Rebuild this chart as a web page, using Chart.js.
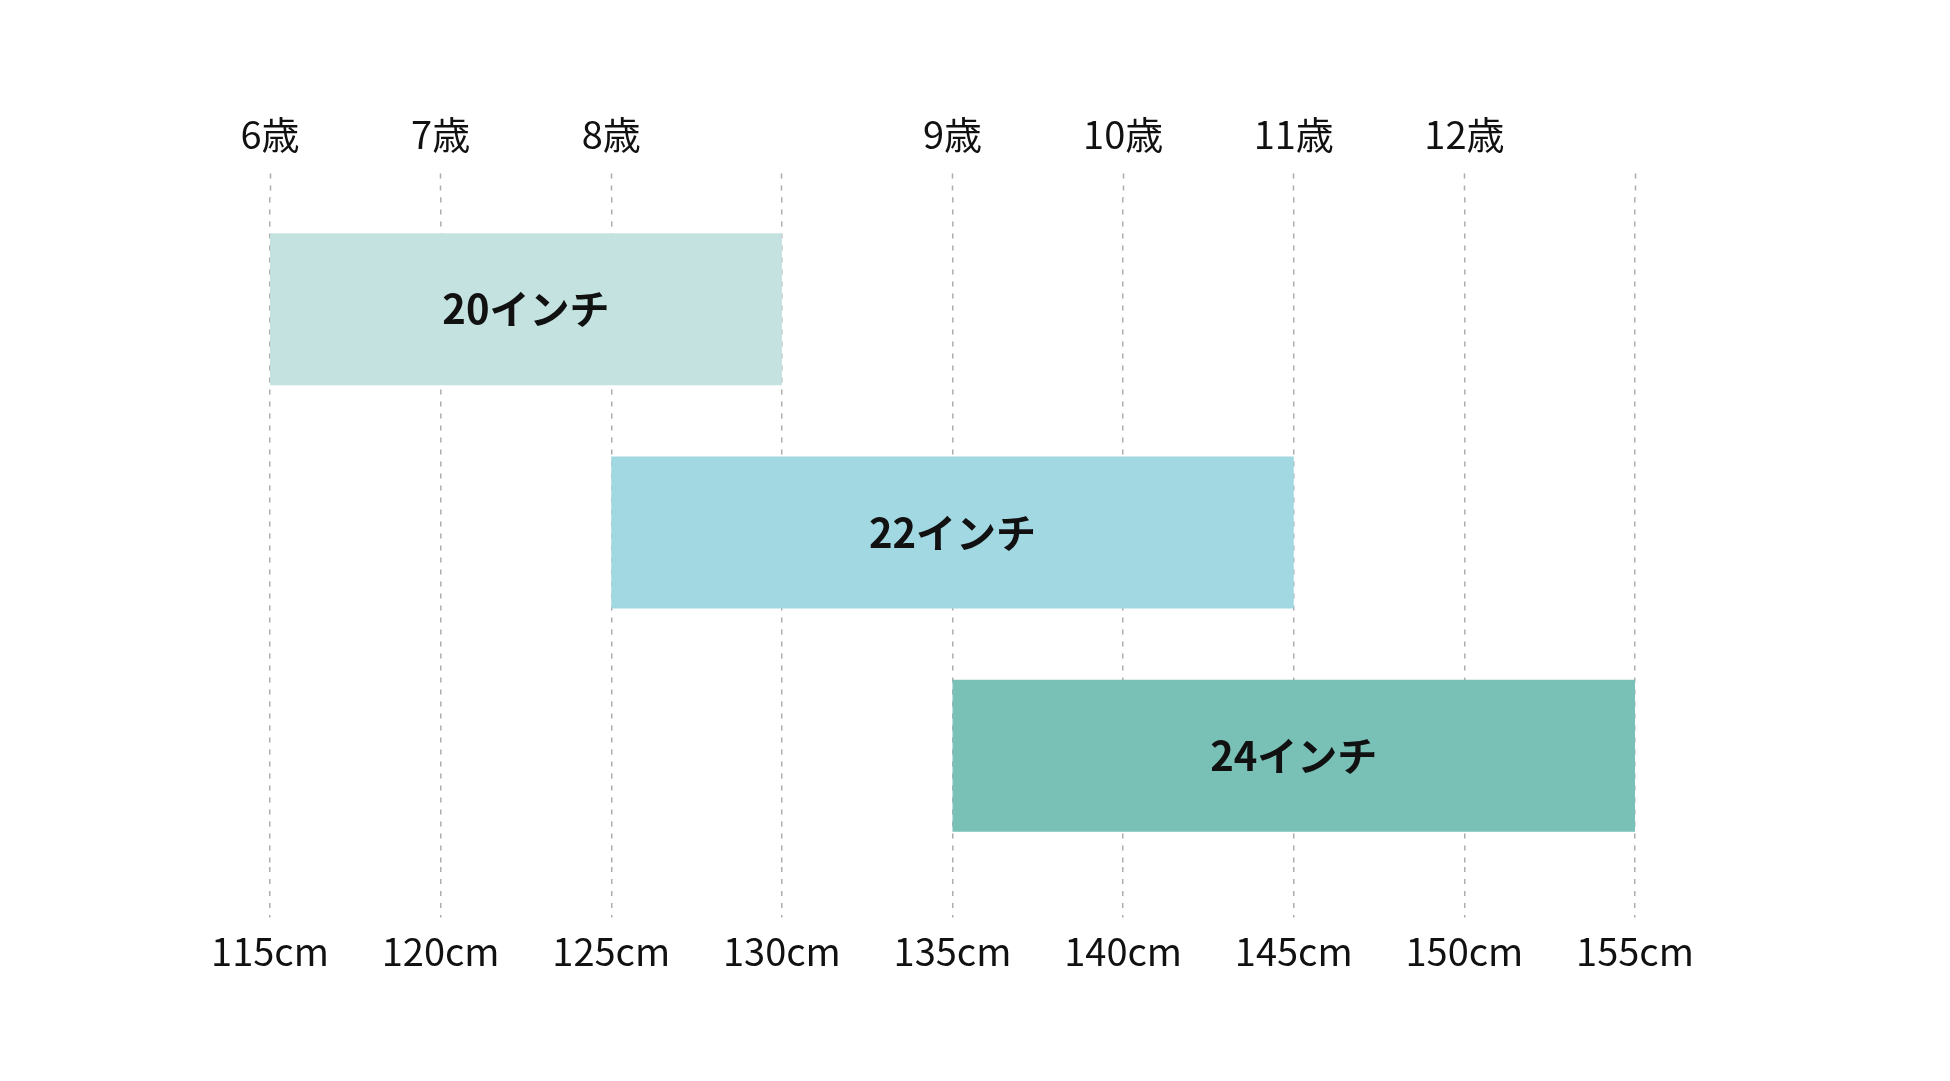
<!DOCTYPE html>
<html lang="ja">
<head>
<meta charset="utf-8">
<title>身長と自転車サイズ</title>
<script src="https://cdn.jsdelivr.net/npm/chart.js@4.4.1/dist/chart.umd.min.js"></script>
<style>
  html, body { margin: 0; padding: 0; background: #fff; }
  .wrap { width: 1950px; height: 1081px; position: relative; }
</style>
</head>
<body>
<div class="wrap"><canvas id="sizeChart"></canvas></div>
<script>
// wheel sizes and height ranges (cm)
const sizes = ["20インチ", "22インチ", "24インチ"];
const heightFrom = [115, 125, 135];
const heightTo = [130, 145, 155];
const barColors = ["#c4e2e0", "#a2d8e2", "#79c0b6"];

// age labels along the top axis
const ageAt = [115, 120, 125, 135, 140, 145, 150];
const ageLabels = ["6歳", "7歳", "8歳", "9歳", "10歳", "11歳", "12歳"];

const FONT = '"Noto Sans CJK JP", "Noto Sans", sans-serif';
const gridColor = "#adadad";

// draw the size name in the middle of each bar
const barLabels = {
  id: "barLabels",
  afterDatasetsDraw(chart) {
    const ctx = chart.ctx;
    const meta = chart.getDatasetMeta(0);
    ctx.save();
    ctx.font = "bold 40px " + FONT;
    ctx.fillStyle = "#111";
    ctx.textAlign = "center";
    ctx.textBaseline = "middle";
    meta.data.forEach((bar, i) => {
      ctx.fillText(sizes[i], (bar.x + bar.base) / 2, bar.y);
    });
    ctx.restore();
  }
};

const ctx1 = document.getElementById("sizeChart");

new Chart(ctx1, {
  type: "bar",
  data: {
    labels: sizes,
    datasets: [
      {
        label: "身長",
        data: sizes.map((s, i) => [heightFrom[i], heightTo[i]]),
        backgroundColor: barColors,
        borderWidth: 0,
        barPercentage: 0.68,
        categoryPercentage: 1
      }
    ]
  },
  options: {
    indexAxis: "y",
    responsive: true,
    maintainAspectRatio: false,
    animation: false,
    layout: {
      padding: { left: 270, right: 315, top: 96, bottom: 96 }
    },
    plugins: {
      legend: { display: false },
      tooltip: { enabled: false }
    },
    scales: {
      x: {
        type: "linear",
        position: "bottom",
        min: 115,
        max: 155,
        grid: {
          color: gridColor,
          lineWidth: 1.5,
          drawTicks: true,
          tickLength: 50,
          tickColor: gridColor,
          tickWidth: 1.5,
          tickBorderDash: [5, 7]
        },
        border: { display: false, dash: [5, 7] },
        ticks: {
          stepSize: 5,
          padding: 11,
          color: "#111",
          font: { family: FONT, size: 38 },
          callback: (v) => v + "cm"
        }
      },
      x2: {
        type: "linear",
        position: "top",
        min: 115,
        max: 155,
        grid: {
          drawOnChartArea: false,
          drawTicks: true,
          tickLength: 24,
          tickColor: gridColor,
          tickWidth: 1.5,
          tickBorderDash: [5, 7]
        },
        border: { display: false },
        ticks: {
          stepSize: 5,
          padding: 16,
          color: "#111",
          font: { family: FONT, size: 38 },
          callback: (v) => {
            const k = ageAt.indexOf(v);
            return k >= 0 ? ageLabels[k] : "";
          }
        }
      },
      y: {
        display: false
      }
    }
  },
  plugins: [barLabels]
});
</script>
</body>
</html>
